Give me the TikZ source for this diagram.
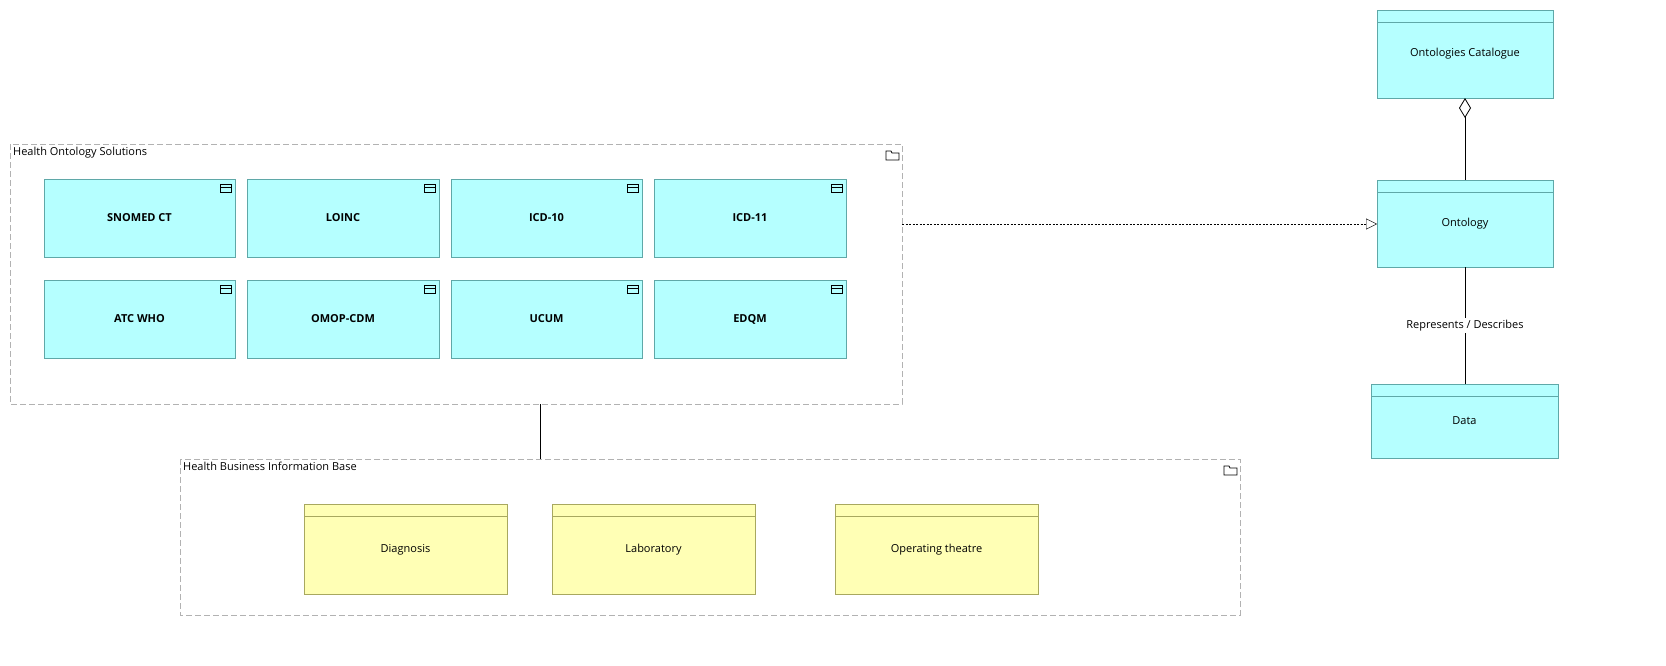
\documentclass[tikz,border=0pt]{standalone}
\usepackage{fontspec}
\setmainfont{Open Sans}
\usetikzlibrary{arrows.meta}
\definecolor{cy}{HTML}{B5FFFF}
\definecolor{cyb}{HTML}{5FA8A8}
\definecolor{ye}{HTML}{FFFFB5}
\definecolor{yeb}{HTML}{A8A85F}
\begin{document}
\begin{tikzpicture}[x=1pt,y=-1pt,font=\fontsize{11}{13}\selectfont,
  app/.style={draw=cyb,fill=cy,font=\fontsize{11}{13}\selectfont\bfseries},
  obj/.style={draw=cyb,fill=cy},
  yobj/.style={draw=yeb,fill=ye},
  grp/.style={draw=gray!60,dashed,dash pattern=on 6pt off 3pt,line width=0.8pt}]
\useasboundingbox (0,0) rectangle (1666,665);
\newcommand\appbox[5]{%
  \draw[app] (#1,#2) rectangle (#3,#4);
  \node[font=\fontsize{11}{13}\selectfont\bfseries] (#5) at ({(#1+#3)/2},{(#2+#4)/2}) {\csname lbl#5\endcsname};
  \draw[line width=0.7pt] (#3-15,#2+5) rectangle (#3-4,#2+13) (#3-15,#2+8) -- (#3-4,#2+8);}
\newcommand\folder[2]{\draw[line width=0.7pt] (#1,#2-4) -- (#1,#2+5) -- (#1+13,#2+5) -- (#1+13,#2-2) -- (#1+6,#2-2) -- (#1+5,#2-4) -- cycle;}
% groups
\draw[grp] (10,144) rectangle (902,404);
\node[anchor=north west,inner sep=2pt] (g1) at (11,145) {Health Ontology Solutions};
\folder{886}{155}
\coordinate (g1b) at (540,404);
\coordinate (g1r) at (902,224);
\draw[grp] (180,459) rectangle (1240,615);
\node[anchor=north west,inner sep=2pt] (g2) at (181,460) {Health Business Information Base};
\folder{1224}{470}
\coordinate (g2t) at (540,459);
% app components
\def\lblsno{SNOMED CT}\def\lblloi{LOINC}\def\lblicda{ICD-10}\def\lblicdb{ICD-11}
\def\lblatc{ATC WHO}\def\lblomop{OMOP-CDM}\def\lblucum{UCUM}\def\lbledqm{EDQM}
\appbox{44}{179}{235}{257}{sno}
\appbox{247}{179}{439}{257}{loi}
\appbox{451}{179}{642}{257}{icda}
\appbox{654}{179}{846}{257}{icdb}
\appbox{44}{280}{235}{358}{atc}
\appbox{247}{280}{439}{358}{omop}
\appbox{451}{280}{642}{358}{ucum}
\appbox{654}{280}{846}{358}{edqm}
% business objects
\draw[yobj] (304,504) rectangle (507,594) (304,516) -- (507,516);
\node (dia) at (405.5,550) {Diagnosis};
\draw[yobj] (552,504) rectangle (755,594) (552,516) -- (755,516);
\node (lab) at (653.5,550) {Laboratory};
\draw[yobj] (835,504) rectangle (1038,594) (835,516) -- (1038,516);
\node (opt) at (936.5,550) {Operating theatre};
% right objects
\draw[obj] (1377,10) rectangle (1553,98) (1377,22) -- (1553,22);
\node (cat) at (1465,54) {Ontologies Catalogue};
\coordinate (catb) at (1465,98);
\draw[obj] (1377,180) rectangle (1553,267) (1377,192) -- (1553,192);
\node (ont) at (1465,224) {Ontology};
\coordinate (ontt) at (1465,180);
\coordinate (ontb) at (1465,267);
\coordinate (ontl) at (1377,224);
\draw[obj] (1371,384) rectangle (1558,458) (1371,396) -- (1558,396);
\node (dat) at (1464.5,421) {Data};
\coordinate (datt) at (1465,384);
% connectors
\draw[line width=0.8pt] (g1b) -- (g2t);
\draw[dash pattern=on 2pt off 1.5pt,-{Triangle[open,length=11pt,width=11pt]}] (g1r) -- (ontl);
\draw[line width=0.8pt,{Diamond[open,length=20pt,width=12pt]}-] (catb) -- (ontt);
\draw[line width=0.8pt] (ontb) -- node[fill=white,inner sep=2pt] (rel) {Represents / Describes} (datt);
\end{tikzpicture}
\end{document}
